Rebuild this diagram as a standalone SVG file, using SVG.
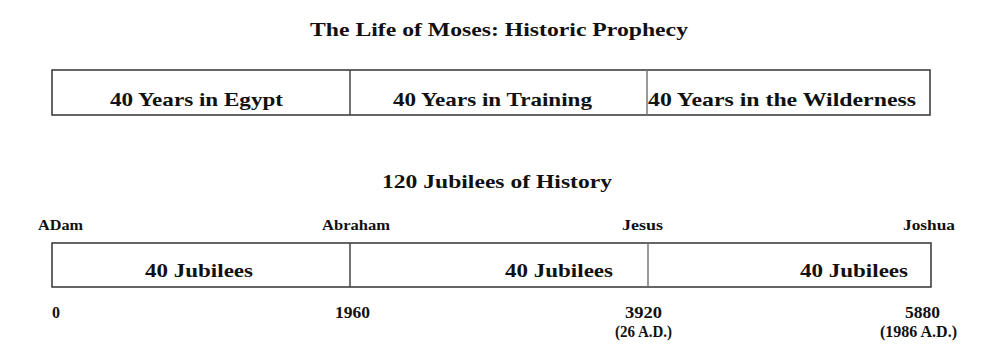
<svg xmlns="http://www.w3.org/2000/svg" width="1001" height="363" viewBox="0 0 1001 363">
<style>
text{font-family:"Liberation Serif","Times New Roman",serif;font-weight:bold;fill:#111}
.t{font-size:19px}
.b{font-size:19px}
.s{font-size:15px}
.n{font-size:16px}
.box{fill:#fff;stroke:#333;stroke-width:1.5}
.div{stroke:#444;stroke-width:1.5}
.div2{stroke:#777;stroke-width:1.5}
</style>
<rect width="1001" height="363" fill="#fff"/>
<text class="t" x="310" y="36" textLength="378" lengthAdjust="spacingAndGlyphs">The Life of Moses: Historic Prophecy</text>
<g id="moses-timeline">
<rect class="box" x="52" y="70" width="878" height="45"/>
</g>
<g id="jubilee-timeline">
<rect class="box" x="52" y="243" width="879" height="44"/>
</g>
<g id="connectors">
<line class="div" x1="350" y1="70" x2="350" y2="115"/>
<line class="div2" x1="647" y1="70" x2="647" y2="115"/>
<line class="div" x1="350" y1="243" x2="350" y2="287"/>
<line class="div2" x1="648" y1="243" x2="648" y2="287"/>
</g>
<g id="egypt"><text class="b" x="110" y="106" textLength="173" lengthAdjust="spacingAndGlyphs">40 Years in Egypt</text></g>
<g id="training"><text class="b" x="393" y="106" textLength="199" lengthAdjust="spacingAndGlyphs">40 Years in Training</text></g>
<g id="wilderness"><text class="b" x="648" y="106" textLength="268" lengthAdjust="spacingAndGlyphs">40 Years in the Wilderness</text></g>
<text class="t" x="382" y="188" textLength="230" lengthAdjust="spacingAndGlyphs">120 Jubilees of History</text>
<g id="adam"><text class="s" x="38" y="230" textLength="45" lengthAdjust="spacingAndGlyphs">ADam</text></g>
<g id="abraham"><text class="s" x="322" y="230" textLength="68" lengthAdjust="spacingAndGlyphs">Abraham</text></g>
<g id="jesus"><text class="s" x="622" y="230" textLength="41" lengthAdjust="spacingAndGlyphs">Jesus</text></g>
<g id="joshua"><text class="s" x="903" y="230" textLength="52" lengthAdjust="spacingAndGlyphs">Joshua</text></g>
<g id="jub1"><text class="b" x="145" y="277" textLength="108" lengthAdjust="spacingAndGlyphs">40 Jubilees</text></g>
<g id="jub2"><text class="b" x="505" y="277" textLength="108" lengthAdjust="spacingAndGlyphs">40 Jubilees</text></g>
<g id="jub3"><text class="b" x="800" y="277" textLength="108" lengthAdjust="spacingAndGlyphs">40 Jubilees</text></g>
<g id="y0"><text class="n" x="52" y="318">0</text></g>
<g id="y1960"><text class="n" x="335" y="318" textLength="35" lengthAdjust="spacingAndGlyphs">1960</text></g>
<g id="y3920"><text class="n" x="625" y="318" textLength="37" lengthAdjust="spacingAndGlyphs">3920</text><text class="n" x="615" y="337" textLength="57" lengthAdjust="spacingAndGlyphs">(26 A.D.)</text></g>
<g id="y5880"><text class="n" x="905" y="318" textLength="35" lengthAdjust="spacingAndGlyphs">5880</text><text class="n" x="880" y="337" textLength="77" lengthAdjust="spacingAndGlyphs">(1986 A.D.)</text></g>
</svg>
